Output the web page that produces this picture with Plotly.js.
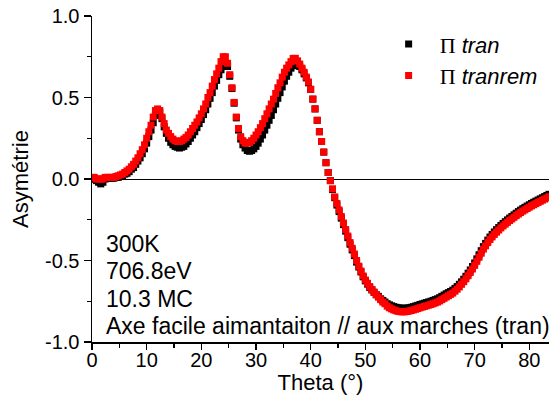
<!DOCTYPE html>
<html><head><meta charset="utf-8">
<script src="https://cdn.plot.ly/plotly-3.0.1.min.js"></script>
<style>html,body{margin:0;padding:0;background:#fff}#chart{width:549px;height:396px}</style>
</head><body><div id="chart"></div>
<script>
const theta = [
0,0.4,0.8,1.2,1.6,2,2.4,2.8,3.2,3.6,
4,4.4,4.8,5.2,5.6,6,6.4,6.8,7.2,7.6,
8,8.4,8.8,9.2,9.6,10,10.4,10.8,11.2,11.6,
12,12.4,12.8,13.2,13.6,14,14.4,14.8,15.2,15.6,
16,16.4,16.8,17.2,17.6,18,18.4,18.8,19.2,19.6,
20,20.4,20.8,21.2,21.6,22,22.4,22.8,23.2,23.6,
24,24.4,24.8,25.2,25.6,26,26.4,26.8,27.2,27.6,
28,28.4,28.8,29.2,29.6,30,30.4,30.8,31.2,31.6,
32,32.4,32.8,33.2,33.6,34,34.4,34.8,35.2,35.6,
36,36.4,36.8,37.2,37.6,38,38.4,38.8,39.2,39.6,
40,40.4,40.8,41.2,41.6,42,42.4,42.8,43.2,43.6,
44,44.4,44.8,45.2,45.6,46,46.4,46.8,47.2,47.6,
48,48.4,48.8,49.2,49.6,50,50.4,50.8,51.2,51.6,
52,52.4,52.8,53.2,53.6,54,54.4,54.8,55.2,55.6,
56,56.4,56.8,57.2,57.6,58,58.4,58.8,59.2,59.6,
60,60.4,60.8,61.2,61.6,62,62.4,62.8,63.2,63.6,
64,64.4,64.8,65.2,65.6,66,66.4,66.8,67.2,67.6,
68,68.4,68.8,69.2,69.6,70,70.4,70.8,71.2,71.6,
72,72.4,72.8,73.2,73.6,74,74.4,74.8,75.2,75.6,
76,76.4,76.8,77.2,77.6,78,78.4,78.8,79.2,79.6,
80,80.4,80.8,81.2,81.6,82,82.4,82.8,83.2,83.6];

const tran = [
0.00,0.00,-0.01,-0.02,-0.03,-0.02,0.00,0.005,0.005,0.005,
0.005,0.01,0.01,0.015,0.02,0.03,0.035,0.045,0.06,0.07,
0.09,0.11,0.13,0.155,0.185,0.22,0.26,0.30,0.345,0.39,
0.41,0.41,0.37,0.32,0.28,0.25,0.225,0.21,0.20,0.195,
0.19,0.195,0.20,0.215,0.23,0.25,0.27,0.29,0.315,0.34,
0.365,0.395,0.425,0.46,0.495,0.53,0.57,0.605,0.64,0.67,
0.695,0.70,0.69,0.63,0.555,0.465,0.375,0.30,0.245,0.21,
0.19,0.175,0.17,0.175,0.185,0.20,0.22,0.245,0.27,0.30,
0.33,0.36,0.39,0.425,0.46,0.495,0.53,0.565,0.60,0.63,
0.655,0.68,0.695,0.705,0.70,0.69,0.67,0.645,0.62,0.59,
0.55,0.49,0.43,0.36,0.29,0.23,0.165,0.10,0.04,-0.01,
-0.065,-0.115,-0.16,-0.20,-0.24,-0.28,-0.32,-0.36,-0.40,-0.435,
-0.47,-0.51,-0.54,-0.57,-0.60,-0.625,-0.645,-0.665,-0.68,-0.695,
-0.71,-0.72,-0.735,-0.745,-0.755,-0.765,-0.772,-0.778,-0.783,-0.787,
-0.79,-0.792,-0.793,-0.793,-0.792,-0.79,-0.787,-0.783,-0.779,-0.775,
-0.77,-0.766,-0.762,-0.758,-0.754,-0.75,-0.745,-0.74,-0.735,-0.728,
-0.72,-0.712,-0.704,-0.697,-0.69,-0.682,-0.671,-0.66,-0.646,-0.631,
-0.615,-0.597,-0.578,-0.558,-0.537,-0.515,-0.49,-0.465,-0.44,-0.415,
-0.395,-0.375,-0.356,-0.34,-0.325,-0.311,-0.298,-0.285,-0.273,-0.262,
-0.251,-0.24,-0.23,-0.22,-0.21,-0.20,-0.191,-0.182,-0.174,-0.166,
-0.158,-0.15,-0.143,-0.136,-0.129,-0.122,-0.115,-0.108,-0.101,-0.094];

const tranrem = [
0.01,0.01,0.00,0.00,0.00,0.00,0.01,0.01,0.01,0.01,
0.01,0.015,0.02,0.025,0.03,0.04,0.05,0.06,0.075,0.09,
0.11,0.13,0.155,0.18,0.21,0.25,0.29,0.33,0.38,0.42,
0.43,0.42,0.38,0.34,0.30,0.28,0.26,0.245,0.235,0.23,
0.23,0.235,0.245,0.255,0.27,0.29,0.31,0.33,0.35,0.375,
0.40,0.43,0.46,0.50,0.53,0.57,0.61,0.645,0.68,0.72,
0.75,0.75,0.71,0.64,0.56,0.47,0.38,0.31,0.26,0.235,
0.22,0.22,0.225,0.235,0.25,0.27,0.29,0.315,0.34,0.37,
0.40,0.43,0.46,0.49,0.525,0.56,0.59,0.625,0.655,0.68,
0.70,0.72,0.74,0.74,0.725,0.705,0.68,0.655,0.625,0.595,
0.55,0.49,0.43,0.36,0.29,0.23,0.165,0.10,0.04,-0.01,
-0.06,-0.11,-0.15,-0.19,-0.23,-0.27,-0.31,-0.35,-0.39,-0.425,
-0.46,-0.50,-0.535,-0.565,-0.595,-0.62,-0.64,-0.66,-0.68,-0.695,
-0.71,-0.725,-0.74,-0.755,-0.765,-0.78,-0.79,-0.797,-0.803,-0.808,
-0.812,-0.814,-0.815,-0.815,-0.813,-0.81,-0.807,-0.803,-0.799,-0.795,
-0.79,-0.786,-0.782,-0.778,-0.774,-0.77,-0.765,-0.76,-0.755,-0.748,
-0.74,-0.732,-0.724,-0.716,-0.708,-0.70,-0.688,-0.676,-0.662,-0.646,
-0.63,-0.612,-0.593,-0.573,-0.552,-0.53,-0.505,-0.48,-0.455,-0.43,
-0.41,-0.39,-0.371,-0.355,-0.34,-0.326,-0.313,-0.30,-0.288,-0.277,
-0.266,-0.255,-0.245,-0.235,-0.225,-0.215,-0.206,-0.197,-0.189,-0.181,
-0.173,-0.165,-0.158,-0.151,-0.144,-0.137,-0.13,-0.123,-0.116,-0.109];

const seriesNames = [
  '<span style="font-family:\'Liberation Serif\',\'Times New Roman\',serif">Π</span> <i>tran</i>',
  '<span style="font-family:\'Liberation Serif\',\'Times New Roman\',serif">Π</span> <i>tranrem</i>'
];
const xTickVals = [0,10,20,30,40,50,60,70,80];
const yTickVals = [-1,-0.5,0,0.5,1];
const yTickText = ['-1.0','-0.5','0.0','0.5','1.0'];
const notes = ['300K','706.8eV','10.3 MC','Axe facile aimantaiton // aux marches (tran)'];
const xTitle = 'Theta (°)';
const yTitle = 'Asymétrie';

const FONT = 'Arial, "Liberation Sans", sans-serif';
const xRange = [0, 83.6];

const traces = [
  {x: theta, y: tran, name: seriesNames[0], type: 'scatter', mode: 'markers',
   marker: {symbol: 'square', size: 7, color: '#000000'}},
  {x: theta, y: tranrem, name: seriesNames[1], type: 'scatter', mode: 'markers',
   marker: {symbol: 'square', size: 7, color: '#ff0000'}}
];

const noteY = [0.302, 0.217, 0.133, 0.048];
const annotations = notes.map((t, i) => ({
  text: t, xref: 'paper', yref: 'paper', x: 0.027, y: noteY[i],
  xanchor: 'left', yanchor: 'middle', showarrow: false,
  font: {family: FONT, size: 23, color: '#000'}
}));

const layout = {
  width: 549, height: 396,
  margin: {l: 92, r: 0, t: 16, b: 54, pad: 0},
  paper_bgcolor: '#fff', plot_bgcolor: '#fff',
  font: {family: FONT, color: '#000'},
  showlegend: true,
  legend: {x: 0.625, y: 0.978, xanchor: 'left', yanchor: 'top',
           bgcolor: 'rgba(0,0,0,0)', font: {family: FONT, size: 22, color: '#000'},
           itemwidth: 52, tracegroupgap: 0},
  xaxis: {range: xRange, tickvals: xTickVals, ticks: 'outside', ticklen: 6, tickwidth: 1.2,
          tickcolor: '#000', showline: true, linecolor: '#000', linewidth: 1.5,
          showgrid: false, zeroline: false, ticklabelstandoff: -7,
          minor: {dtick: 5, tick0: 0, ticks: 'outside', ticklen: 4, tickwidth: 1.2, tickcolor: '#000'},
          tickfont: {family: FONT, size: 20, color: '#000'},
          title: {text: xTitle, font: {family: FONT, size: 22, color: '#000'}, standoff: 2}},
  xaxis2: {range: xRange, overlaying: 'x', side: 'top', anchor: 'y', tickvals: xTickVals,
           ticks: 'inside', ticklen: 7, tickwidth: 1.2, tickcolor: '#000',
           showline: true, linecolor: '#000', linewidth: 1.5, showgrid: false, zeroline: false,
           showticklabels: false,
           minor: {dtick: 5, tick0: 0, ticks: 'inside', ticklen: 4, tickwidth: 1.2, tickcolor: '#000'}},
  yaxis: {range: [-1, 1], tickvals: yTickVals, ticktext: yTickText, ticks: 'outside', ticklen: 7,
          tickwidth: 1.2, tickcolor: '#000', showline: true, linecolor: '#000', linewidth: 1.5,
          showgrid: false, zeroline: true, zerolinecolor: '#000', zerolinewidth: 1,
          minor: {dtick: 0.25, tick0: 0, ticks: 'outside', ticklen: 4, tickwidth: 1.2, tickcolor: '#000'},
          tickfont: {family: FONT, size: 20, color: '#000'},
          title: {text: yTitle, font: {family: FONT, size: 22, color: '#000'}, standoff: 10}},
  annotations: annotations
};

Plotly.newPlot('chart', traces, layout, {displayModeBar: false, staticPlot: true});
</script></body></html>
